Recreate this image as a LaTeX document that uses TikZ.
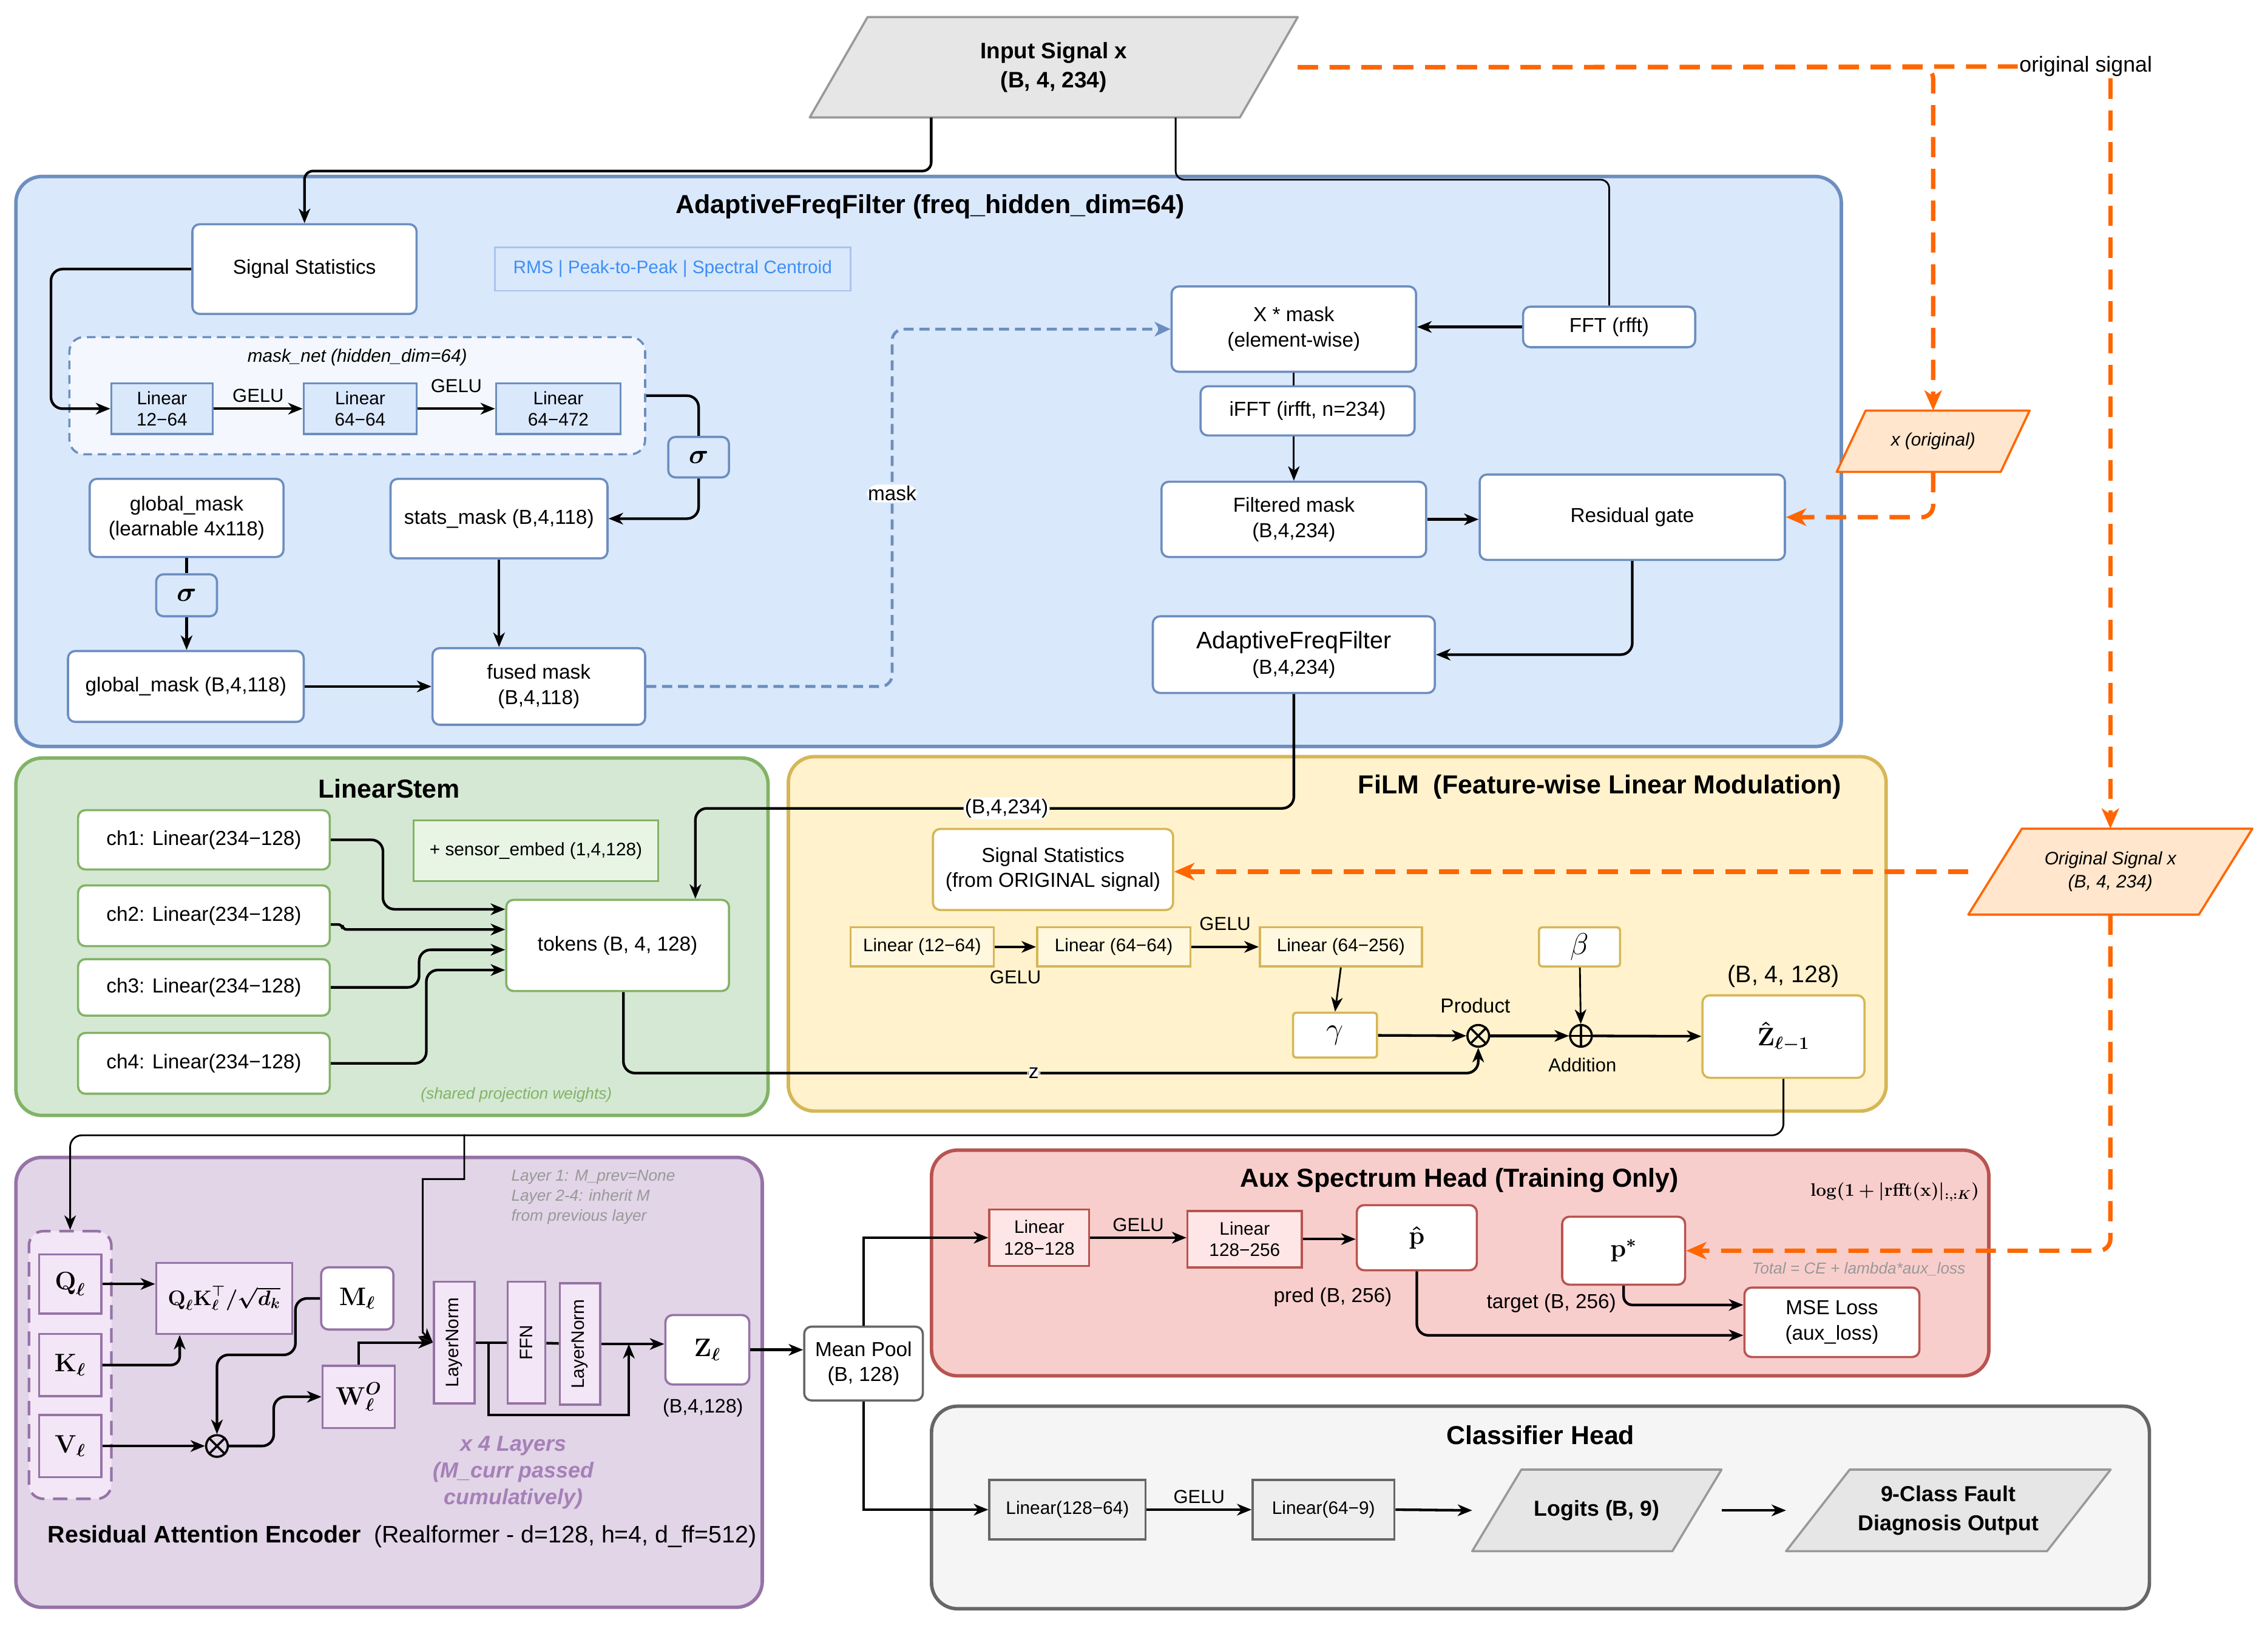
\RequirePackage{fix-cm}
\documentclass[tikz,border=0pt]{standalone}
\usepackage[no-math]{fontspec}
\setmainfont{Liberation Sans}
\usepackage{amsmath,bm}
\usetikzlibrary{arrows.meta,positioning,calc}
\definecolor{blueedge}{HTML}{6C8EBF}
\definecolor{bluefill}{HTML}{DAE8FC}
\definecolor{rmsedge}{HTML}{A9C4EB}
\definecolor{rmstext}{HTML}{3D8FF5}
\definecolor{greenedge}{HTML}{82B366}
\definecolor{greenfill}{HTML}{D5E8D4}
\definecolor{greenlight}{HTML}{E8F5E5}
\definecolor{yellowedge}{HTML}{D6B656}
\definecolor{yellowfill}{HTML}{FFF2CC}
\definecolor{yellowlight}{HTML}{FFF8DE}
\definecolor{purpleedge}{HTML}{9673A6}
\definecolor{purplefill}{HTML}{E1D5E7}
\definecolor{lilac}{HTML}{F3E6F7}
\definecolor{xlayers}{HTML}{A680B8}
\definecolor{rededge}{HTML}{B85450}
\definecolor{redfill}{HTML}{F8CECC}
\definecolor{pinklight}{HTML}{FFE6E6}
\definecolor{grayedge}{HTML}{666666}
\definecolor{grayfill}{HTML}{F5F5F5}
\definecolor{graylight}{HTML}{EEEEEE}
\definecolor{paraedge}{HTML}{999999}
\definecolor{parafill}{HTML}{E6E6E6}
\definecolor{orangeline}{HTML}{FF6600}
\definecolor{orangefill}{HTML}{FFE6CC}
\definecolor{notegray}{HTML}{999999}
\pgfdeclarelayer{back}
\pgfdeclarelayer{mid}
\pgfsetlayers{back,mid,main}
\newcommand\fsz[2]{\fontsize{#1}{#2}\selectfont}

\begin{document}
\begin{tikzpicture}[x=1pt,y=-1pt,font=\fsz{14}{17.5},
 sz/.style 2 args={minimum width=#1,minimum height=#2},
 cont/.style={draw,line width=2.4pt,rounded corners=18,inner sep=0},
 wbox/.style={draw,fill=white,line width=1.5pt,rounded corners=5,align=center,inner sep=1pt},
 lbox/.style={draw,line width=1.5pt,align=center,inner sep=1pt,font=\fsz{12.5}{15}},
 qbox/.style={draw=purpleedge,fill=lilac,line width=1.5pt,align=center,inner sep=1pt},
 mth/.style={font=\fsz{17.5}{19}},
 ttl/.style={font=\fsz{18}{22}\bfseries},
 note/.style={font=\fsz{11}{14}\itshape,text=notegray,align=left},
 gelu/.style={font=\fsz{13}{15}},
 para/.style={line width=1.5pt,line join=round},
 arr/.style={-{Stealth[length=10pt,width=8pt,inset=3pt]},line width=1.8pt},
 tarr/.style={arr,line width=1.2pt},
 ln/.style={line width=1.8pt},
 oarr/.style={draw,color=orangeline,line width=3pt,dash pattern=on 14pt off 8pt,-{Stealth[length=14pt,width=12pt,inset=4pt]},rounded corners=8},
 darr/.style={draw,color=blueedge,line width=2pt,dash pattern=on 7pt off 4pt,-{Stealth[length=11pt,width=10pt,inset=3pt]},rounded corners=8},
 circ/.style={circle,draw,line width=1.5pt,minimum size=15,inner sep=0}]
\useasboundingbox (0,0) rectangle (1568,1123);

% containers
\begin{pgfonlayer}{back}
\node[cont,draw=blueedge,fill=bluefill,sz={1262}{394}] (aff) at (642,319) {};
\node[cont,draw=greenedge,fill=greenfill,sz={520}{247}] (stem) at (271,647.5) {};
\node[cont,draw=yellowedge,fill=yellowfill,sz={759}{245}] (film) at (924.5,645.5) {};
\node[cont,draw=purpleedge,fill=purplefill,sz={516}{311}] (enc) at (269,955.5) {};
\node[cont,draw=rededge,fill=redfill,sz={731}{156}] (aux) at (1009.5,873) {};
\node[cont,draw=grayedge,fill=grayfill,sz={842}{140}] (cls) at (1065,1042) {};
\node[draw=blueedge,fill=bluefill!30,line width=1.5pt,dash pattern=on 6pt off 4pt,rounded corners=10,sz={398}{81}] (masknet) at (247,273.5) {};
\node[draw=purpleedge,fill=lilac,line width=1.8pt,dash pattern=on 10pt off 6pt,rounded corners=10,sz={57}{185}] (qkv) at (48.5,943.5) {};
\end{pgfonlayer}

% titles
\node[ttl] (afftitle) at (643,143) {AdaptiveFreqFilter (freq\_hidden\_dim=64)};
\node[ttl] (stemtitle) at (269,545) {LinearStem};
\node[ttl] (filmtitle) at (1106,544) {FiLM\ \ (Feature-wise Linear Modulation)};
\node[ttl] (auxtitle) at (1009,816) {Aux Spectrum Head (Training Only)};
\node[ttl] (clstitle) at (1065,992) {Classifier Head};
\node[font=\fsz{16.5}{20}] (enctitle) at (278,1062) {\textbf{Residual Attention Encoder}\ \ (Realformer - d=128, h=4, d\_ff=512)};

% input and adaptive filter
\node[sz={337}{69},font=\fsz{15.5}{20}\bfseries,align=center] (inp) at (728.5,46.5) {Input Signal x\\(B, 4, 234)};
\node[font=\fsz{15}{18},fill=white,inner sep=1pt] (osig) at (1442,46) {original signal};
\node[wbox,draw=blueedge,sz={155}{62}] (sigstat) at (210.5,186) {Signal Statistics};
\node[draw=rmsedge,line width=1.2pt,fill=bluefill,text=rmstext,font=\fsz{12.5}{15},sz={246}{30}] (rms) at (465,186) {RMS | Peak-to-Peak | Spectral Centroid};
\node[font=\fsz{12.5}{15}\itshape] (masklbl) at (247,247) {mask\_net (hidden\_dim=64)};
\node[lbox,draw=blueedge,fill=bluefill,sz={70}{35}] (lin1) at (112,282.5) {Linear\\12−64};
\node[lbox,draw=blueedge,fill=bluefill,sz={78}{35}] (lin2) at (249,282.5) {Linear\\64−64};
\node[lbox,draw=blueedge,fill=bluefill,sz={86}{35}] (lin3) at (386,282.5) {Linear\\64−472};
\node[wbox,draw=blueedge,fill=bluefill,sz={42}{28},font=\fsz{19}{20}] (sig1) at (483,316) {$\boldsymbol{\sigma}$};
\node[wbox,draw=blueedge,sz={134}{54}] (gmask) at (129,358) {global\_mask\\(learnable 4x118)};
\node[wbox,draw=blueedge,fill=bluefill,sz={42}{29},font=\fsz{19}{20}] (sig2) at (129,411.5) {$\boldsymbol{\sigma}$};
\node[wbox,draw=blueedge,sz={163}{49}] (gmaskb) at (128.5,474.5) {global\_mask (B,4,118)};
\node[wbox,draw=blueedge,sz={150}{55}] (smask) at (345,358.5) {stats\_mask (B,4,118)};
\node[wbox,draw=blueedge,sz={147}{53}] (fused) at (372.5,474.5) {fused mask\\(B,4,118)};
\node[wbox,draw=blueedge,sz={169}{59}] (xmask) at (894.5,227.5) {X * mask\\(element-wise)};
\node[wbox,draw=blueedge,sz={119}{28}] (fft) at (1112.5,226) {FFT (rfft)};
\node[wbox,draw=blueedge,sz={148}{34}] (ifft) at (904,284) {iFFT (irfft, n=234)};
\node[wbox,draw=blueedge,sz={183}{52}] (fmask) at (894.5,359) {Filtered mask\\(B,4,234)};
\node[wbox,draw=blueedge,sz={211}{59}] (resgate) at (1128.5,357.5) {Residual gate};
\node[wbox,draw=blueedge,sz={195}{53}] (affout) at (894.5,452.5) {{\fsz{16.5}{20}AdaptiveFreqFilter}\\(B,4,234)};
\node[sz={133}{42},font=\fsz{12.5}{15}\itshape] (xorig) at (1336.5,305) {x (original)};

% linear stem
\node[wbox,draw=greenedge,sz={174}{41}] (ch1) at (141,580.5) {ch1: Linear(234−128)};
\node[wbox,draw=greenedge,sz={174}{42}] (ch2) at (141,633) {ch2: Linear(234−128)};
\node[wbox,draw=greenedge,sz={174}{39}] (ch3) at (141,682.5) {ch3: Linear(234−128)};
\node[wbox,draw=greenedge,sz={174}{42}] (ch4) at (141,735) {ch4: Linear(234−128)};
\node[draw=greenedge,fill=greenlight,line width=1.5pt,sz={169}{42},font=\fsz{12.5}{15}] (sembed) at (370.5,588) {+ sensor\_embed (1,4,128)};
\node[wbox,draw=greenedge,sz={154}{63}] (tokens) at (427,653.5) {tokens (B, 4, 128)};
\node[font=\fsz{11}{13}\itshape,text=greenedge] (shared) at (357,757) {(shared projection weights)};

% FiLM
\node[wbox,draw=yellowedge,sz={166}{56}] (fsig) at (728,601) {Signal Statistics\\(from ORIGINAL signal)};
\node[sz={196}{59},font=\fsz{12.5}{16}\itshape,align=center] (origsig) at (1459,602.5) {Original Signal x\\(B, 4, 234)};
\node[lbox,draw=yellowedge,fill=yellowlight,sz={99}{27}] (flin1) at (637.5,654.5) {Linear (12−64)};
\node[lbox,draw=yellowedge,fill=yellowlight,sz={106}{27}] (flin2) at (770,654.5) {Linear (64−64)};
\node[lbox,draw=yellowedge,fill=yellowlight,sz={112}{27}] (flin3) at (927,654.5) {Linear (64−256)};
\node[wbox,draw=yellowedge,rounded corners=2,sz={58}{31},font=\fsz{21}{22}] (gam) at (923,715.5) {$\gamma$};
\node[wbox,draw=yellowedge,rounded corners=2,sz={56}{27},font=\fsz{21}{22}] (bet) at (1092,654.5) {$\beta$};
\node[circ] (prod) at (1022,716) {};
\node[circ] (add) at (1093,716) {};
\node[wbox,draw=yellowedge,sz={112}{57},mth] (zhat) at (1233,716.5) {$\boldsymbol{\hat{\mathbf{Z}}_{\ell-1}}$};
\node[font=\fsz{16.5}{18}] (zhatdim) at (1233,675) {(B, 4, 128)};
\node (prodlbl) at (1020,695) {Product};
\node[font=\fsz{13}{15}] (addlbl) at (1094,736) {Addition};

% encoder
\node[qbox,sz={43}{41},mth] (qq) at (48.5,887.5) {$\boldsymbol{\mathbf{Q}_\ell}$};
\node[qbox,sz={43}{43},mth] (kk) at (48.5,943.5) {$\boldsymbol{\mathbf{K}_\ell}$};
\node[qbox,sz={43}{43},mth] (vv) at (48.5,999.5) {$\boldsymbol{\mathbf{V}_\ell}$};
\node[qbox,sz={94}{49},font=\fsz{14.5}{16}] (qk) at (155,897.5) {$\boldsymbol{\mathbf{Q}_\ell\mathbf{K}_\ell^{\top}/\sqrt{d_k}}$};
\node[wbox,draw=purpleedge,sz={50}{43},mth] (mm) at (247,897.5) {$\boldsymbol{\mathbf{M}_\ell}$};
\node[qbox,sz={50}{43},mth] (wo) at (248,965.5) {$\boldsymbol{\mathbf{W}_\ell^{O}}$};
\node[circ] (mul) at (150,999.5) {};
\node[qbox,sz={28}{84},font=\fsz{12.5}{14}] (ln1) at (314,928) {\rotatebox{90}{LayerNorm}};
\node[qbox,sz={26}{84},font=\fsz{12.5}{14}] (ffn) at (364,928) {\rotatebox{90}{FFN}};
\node[qbox,sz={28}{84},font=\fsz{12.5}{14}] (ln2) at (401,929) {\rotatebox{90}{LayerNorm}};
\node[wbox,draw=purpleedge,sz={58}{48},mth] (zl) at (489,933) {$\boldsymbol{\mathbf{Z}_\ell}$};
\node[font=\fsz{13.5}{16}] (zldim) at (486,973) {(B,4,128)};
\node[note,anchor=north west] (layernote) at (350,805) {Layer 1: M\_prev=None\\Layer 2-4: inherit M\\from previous layer};
\node[font=\fsz{15}{18.5}\bfseries\itshape,text=xlayers,align=center] (xfour) at (355,1018) {x 4 Layers\\(M\_curr passed\\cumulatively)};
\node[wbox,draw=grayedge,sz={82}{51}] (mpool) at (597,942.5) {Mean Pool\\(B, 128)};

% aux head
\node[lbox,draw=rededge,fill=pinklight,sz={69}{39}] (alin1) at (718.5,855.5) {Linear\\128−128};
\node[lbox,draw=rededge,fill=pinklight,sz={79}{39}] (alin2) at (860.5,856.5) {Linear\\128−256};
\node[wbox,draw=rededge,sz={83}{45},mth] (phat) at (979.5,855.5) {$\boldsymbol{\hat{\mathbf{p}}}$};
\node[wbox,draw=rededge,sz={85}{47},mth] (pstar) at (1122.5,864.5) {$\boldsymbol{\mathbf{p}^{*}}$};
\node[wbox,draw=rededge,sz={121}{48}] (mse) at (1266.5,914) {MSE Loss\\(aux\_loss)};
\node[font=\fsz{12.5}{15}] (spec) at (1310,824) {$\boldsymbol{\log(1+|\mathrm{rfft}(\mathbf{x})|_{:,:K})}$};
\node[font=\fsz{11}{13}\itshape,text=notegray] (total) at (1285,877) {Total = CE + lambda*aux\_loss};

% classifier head
\node[lbox,draw=grayedge,fill=graylight,sz={108}{41}] (clin1) at (738,1043.5) {Linear(128−64)};
\node[lbox,draw=grayedge,fill=graylight,sz={98}{41}] (clin2) at (915,1043.5) {Linear(64−9)};
\node[sz={172}{56},font=\fsz{15}{18}\bfseries] (logits) at (1104,1044) {Logits (B, 9)};
\node[sz={224}{56},font=\fsz{15}{20}\bfseries,align=center] (out9) at (1347,1044) {9-Class Fault\\Diagnosis Output};

% parallelograms
\begin{pgfonlayer}{mid}
\draw[para,draw=paraedge,fill=parafill] ($(inp.north west)+(40,0)$) -- (inp.north east) -- ($(inp.south east)+(-40,0)$) -- (inp.south west) -- cycle;
\draw[para,draw=orangeline,fill=orangefill] ($(xorig.north west)+(20,0)$) -- (xorig.north east) -- ($(xorig.south east)+(-20,0)$) -- (xorig.south west) -- cycle;
\draw[para,draw=orangeline,fill=orangefill] ($(origsig.north west)+(37,0)$) -- (origsig.north east) -- ($(origsig.south east)+(-37,0)$) -- (origsig.south west) -- cycle;
\draw[para,draw=paraedge,fill=parafill] ($(logits.north west)+(34,0)$) -- (logits.north east) -- ($(logits.south east)+(-34,0)$) -- (logits.south west) -- cycle;
\draw[para,draw=paraedge,fill=parafill] ($(out9.north west)+(44,0)$) -- (out9.north east) -- ($(out9.south east)+(-44,0)$) -- (out9.south west) -- cycle;
\end{pgfonlayer}

% connectors: adaptive filter
\draw[arr,rounded corners=6] ($(inp.south west)+(84,0)$) -- ++(0,37) -| (sigstat.north);
\draw[ln,line width=1.2pt,rounded corners=6] ($(inp.south west)+(253,0)$) -- ++(0,43) -| (fft.north);
\draw[oarr,-] (inp.east) -- (osig.west);
\draw[oarr] (inp.east) -| (xorig.north);
\draw[oarr] (osig.south -| origsig.north) -- (origsig.north);
\draw[oarr] (xorig.south) |- (resgate.east);
\draw[oarr] (origsig.south) |- (pstar.east);
\draw[oarr] (origsig.west) -- (origsig.west -| fsig.east);
\draw[arr,rounded corners=8] (sigstat.west) -- ++(-97,0) |- (lin1.west);
\draw[arr] (lin1) -- node[above,gelu]{GELU} (lin2);
\draw[arr] (lin2) -- node[above=7pt,gelu]{GELU} (lin3);
\draw[ln,rounded corners=8] (masknet.east) -| (sig1.north);
\draw[arr,rounded corners=8] (sig1.south) |- (smask.east);
\draw[ln] (gmask.south -| sig2.north) -- (sig2.north);
\draw[arr] (sig2.south) -- (sig2.south |- gmaskb.north);
\draw[arr] (smask.south) -- (smask.south |- fused.north);
\draw[arr] (gmaskb) -- (fused);
\draw[darr] (fused.east) -- ++(170,0) |- node[pos=0.27,fill=white,inner sep=1pt,text=black]{mask} (xmask.west);
\draw[arr] (fft.west) -- (fft.west -| xmask.east);
\draw[ln,line width=1.2pt] (xmask.south) -- (xmask.south |- ifft.north);
\draw[tarr] (ifft.south -| fmask.north) -- (fmask.north);
\draw[arr] (fmask.east) -- (fmask.east -| resgate.west);
\draw[arr,rounded corners=8] (resgate.south) |- (affout.east);
\draw[arr,rounded corners=8] (affout.south) -- ++(0,79) -| node[pos=0.24,fill=white,inner sep=1pt]{(B,4,234)} ($(tokens.north east)+(-24,0)$);

% connectors: stem and FiLM
\draw[arr,rounded corners=8] (ch1.east) -- ++(36,0) |- ($(tokens.west)+(0,-25)$);
\draw[arr,rounded corners=3] ($(ch2.east)+(0,6)$) -- ++(8,0) |- ($(tokens.west)+(0,-11)$);
\draw[arr,rounded corners=8] (ch3.east) -- ++(61,0) |- ($(tokens.west)+(0,3)$);
\draw[arr,rounded corners=8] (ch4.east) -- ++(66,0) |- ($(tokens.west)+(0,17)$);
\draw[arr,rounded corners=8] ($(tokens.south)+(4,0)$) -- ++(0,56) -| node[pos=0.24,fill=white,inner sep=1pt]{z} (prod.south);
\draw[arr] (flin1) -- node[below=12pt,gelu]{GELU} (flin2);
\draw[arr] (flin2) -- node[above=7pt,gelu]{GELU} (flin3);
\draw[tarr] (flin3.south) -- (gam.north);
\draw[arr] (gam) -- (prod);
\draw[arr] (prod) -- (add);
\draw[tarr] (bet) -- (add);
\draw[arr] (add) -- (zhat);
\draw[line width=1.5pt] (prod.north west) -- (prod.south east) (prod.north east) -- (prod.south west);
\draw[line width=1.5pt] (add.north) -- (add.south) (add.west) -- (add.east);

% connectors: encoder
\coordinate (split) at (321,784);
\draw[tarr,rounded corners=8] (zhat.south) -- ++(0,39) -| (qkv.north);
\draw[tarr] (split) -- ++(0,31) -| ($(ln1.west)+(-7,-7)$) -- (ln1.west);
\draw[arr] (qq.east) -- (qq.east -| qk.west);
\draw[arr,rounded corners=6] (kk.east) -| ($(qk.south west)+(17,0)$);
\draw[arr,rounded corners=8] (mm.west) -- ++(-17,0) -- ++(0,39) -| (mul.north);
\draw[arr] (vv.east) -- (mul.west);
\draw[line width=1.5pt] (mul.north west) -- (mul.south east) (mul.north east) -- (mul.south west);
\draw[arr,rounded corners=8] (mul.east) -- ++(31,0) |- (wo.west);
\draw[arr] (wo.north) |- (ln1.west);
\draw[ln] (ln1) -- (ffn);
\draw[ln] (ffn) -- (ln2);
\draw[arr] (ln2.east) -- (ln2.east -| zl.west);
\coordinate (resin) at ($(ln1.east)+(9,0)$);
\draw[arr] (resin) -- ++(0,50) -| ($(ln2.east)+(19,0)$);
\draw[arr] (zl.east) -- (zl.east -| mpool.west);

% connectors: heads
\draw[arr] (mpool.north) |- (alin1.west);
\draw[arr] (mpool.south) |- (clin1.west);
\draw[arr] (alin1.east) -- node[above,gelu]{GELU} (alin1.east -| alin2.west);
\draw[arr] (alin2.east) -- (alin2.east -| phat.west);
\draw[arr,rounded corners=8] (phat.south) |- node[pos=0.2,left=13pt]{pred (B, 256)} ($(mse.west)+(0,9)$);
\draw[arr,rounded corners=6] (pstar.south) |- node[pos=0.45,left=1pt]{target (B, 256)} ($(mse.west)+(0,-12)$);
\draw[arr] (clin1) -- node[above,gelu]{GELU} (clin2);
\draw[arr] (clin2.east) -- (logits.west);
\draw[arr] (logits.east) -- (out9.west);
\end{tikzpicture}
\end{document}
